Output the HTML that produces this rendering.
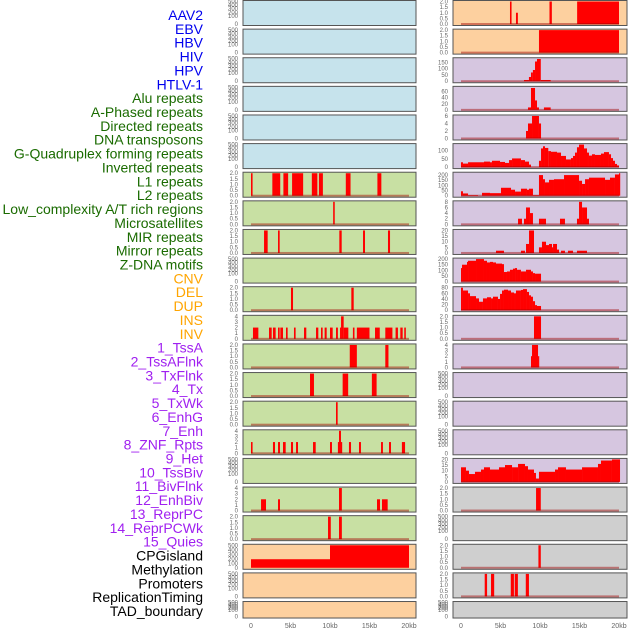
<!DOCTYPE html>
<html><head><meta charset="utf-8"><style>
body{margin:0;background:#fff;width:630px;height:630px;overflow:hidden}
svg{display:block;font-family:"Liberation Sans",sans-serif}
</style></head><body>
<svg id="c" width="630" height="630"></svg>
<script>
const labelNames=["AAV2","EBV","HBV","HIV","HPV","HTLV-1","Alu repeats","A-Phased repeats","Directed repeats","DNA transposons","G-Quadruplex forming repeats","Inverted repeats","L1 repeats","L2 repeats","Low_complexity A/T rich regions","Microsatellites","MIR repeats","Mirror repeats","Z-DNA motifs","CNV","DEL","DUP","INS","INV","1_TssA","2_TssAFlnk","3_TxFlnk","4_Tx","5_TxWk","6_EnhG","7_Enh","8_ZNF_Rpts","9_Het","10_TssBiv","11_BivFlnk","12_EnhBiv","13_ReprPC","14_ReprPCWk","15_Quies","CPGisland","Methylation","Promoters","ReplicationTiming","TAD_boundary"];
const labelColors=[].concat(Array(6).fill("#0000ee"),Array(13).fill("#1a6b00"),Array(5).fill("#ffa500"),Array(15).fill("#a020f0"),Array(5).fill("#000"));
const xTicks=[0,5,10,15,20];
const xTickLabels=["0","5kb","10kb","15kb","20kb"];
const T2=[0,0.5,1,1.5,2], T4=[0,1,2,3,4], T500=[0,100,200,300,400,500];
const BL="#c6e3ec",GR="#c8e0a3",PE="#fdd09f",PU="#d6c6e0",GY="#cfcfcf";
const tracks=[
{bg:BL,ymax:500,ticks:T500,empty:1},{bg:BL,ymax:500,ticks:T500,empty:1},{bg:BL,ymax:500,ticks:T500,empty:1},
{bg:BL,ymax:500,ticks:T500,empty:1},{bg:BL,ymax:500,ticks:T500,empty:1},{bg:BL,ymax:500,ticks:T500,empty:1},
{bg:GR,ymax:2,ticks:T2,starts:[0,2.7,4.1,5.2,7.7,8.6,12.0,16.0],ends:[0.2,3.7,4.7,6.6,8.4,9.1,12.6,16.5],vals:[2,2,2,2,2,2,2,2]},
{bg:GR,ymax:2,ticks:T2,starts:[10.4],ends:[10.6],vals:[2]},
{bg:GR,ymax:2,ticks:T2,starts:[1.65,3.42,11.18,14.18,17.34],ends:[2.11,3.63,11.48,14.43,17.6],vals:[2,2,2,2,2]},
{bg:GR,ymax:500,ticks:T500,empty:1},
{bg:GR,ymax:2,ticks:T2,starts:[5.06,12.7],ends:[5.32,13.0],vals:[2,2]},
{bg:GR,ymax:4,ticks:T4,starts:[0.25,2.28,2.78,3.42,3.71,4.43,5.44,6.71,8.23,8.86,9.32,10.0,10.76,11.27,11.4,11.73,12.9,13.4,15.7,17.0,18.3,18.9,19.4],ends:[0.93,2.62,3.12,3.63,4.05,4.64,5.65,7.0,8.52,9.07,9.58,10.34,11.0,11.4,11.73,12.32,13.1,15.0,16.3,17.9,18.6,19.2,19.6],vals:[2,2,2,2,2,2,2,2,2,2,2,2,2,2,4,2,2,2,2,2,2,2,2]},
{bg:GR,ymax:2,ticks:T2,starts:[12.5,17.0],ends:[13.4,17.4],vals:[2,2]},
{bg:GR,ymax:2,ticks:T2,starts:[7.47,11.6,15.3],ends:[7.97,12.3,15.9],vals:[2,2,2]},
{bg:GR,ymax:2,ticks:T2,starts:[10.76],ends:[10.97],vals:[2]},
{bg:GR,ymax:4,ticks:T4,starts:[0,2.78,3.42,4.05,5.06,5.7,7.85,10.0,11.0,11.14,11.39,12.4,13.67,16.46,17.47,19.1],ends:[0.2,3.04,3.67,4.39,5.32,5.95,8.19,10.25,11.14,11.39,11.5,12.66,13.92,16.7,17.72,19.5],vals:[2,2,2,2,2,2,2,2,2,4,2,2,2,2,2,2]},
{bg:GR,ymax:500,ticks:T500,empty:1},
{bg:GR,ymax:4,ticks:T4,starts:[1.27,3.42,11.14,15.95,16.58],ends:[1.9,3.67,11.5,16.33,17.3],vals:[2,2,4,2,2]},
{bg:GR,ymax:2,ticks:T2,starts:[9.75,11.14],ends:[10.1,11.5],vals:[2,2]},
{bg:PE,ymax:500,ticks:T500,starts:[0,10],ends:[10,20],vals:[190,500],nobase:1},
{bg:PE,ymax:500,ticks:T500,empty:1},{bg:PE,ymax:500,ticks:T500,empty:1},
{bg:PE,ymax:2,ticks:T2,starts:[6.2,6.96,11.2,14.7],ends:[6.4,7.2,11.5,20],vals:[2,1,2,2]},
{bg:PE,ymax:2,ticks:T2,starts:[9.87],ends:[20],vals:[2]},
{bg:PU,ymax:180,ticks:[0,50,100,150],starts:[7.97,8.6,8.86,9.1,9.37,9.62,10.1],ends:[8.6,8.86,9.1,9.37,9.62,10.1,11.35],vals:[10,34,70,90,158,178,10]},
{bg:PU,ymax:74,ticks:[0,20,40,60],starts:[8.48,8.86,9.37,9.62,10.5],ends:[8.86,9.37,9.62,9.87,11.35],vals:[8,72,31,8,8]},
{bg:PU,ymax:6,ticks:[0,2,4,6],starts:[8.23,8.48,8.99,9.87],ends:[8.48,8.99,9.87,10.13],vals:[2,4,6,4]},
{bg:PU,ymax:135,ticks:[0,50,100],edges:[0,0.25,0.89,2.91,3.67,3.92,4.94,5.57,6.08,6.46,7.59,8.10,8.61,8.86,9.87,10.13,10.38,10.63,11.05,11.39,12.15,12.66,13.29,13.92,14.18,14.43,14.68,14.94,15.57,15.95,16.20,16.58,16.96,17.72,18.10,18.73,18.99,19.24,19.49,19.75,20.0],vals:[29,21,29,33,29,38,31,25,42,52,42,33,15,0,38,112,125,115,96,92,87,67,46,54,67,87,119,135,112,87,69,77,73,81,90,77,54,38,19,10]},
{bg:PU,ymax:218,ticks:[0,50,100,150,200],edges:[0,0.25,0.89,2.15,2.66,3.67,5.06,6.33,6.84,7.59,8.35,8.61,9.11,9.87,10.38,10.63,11.14,11.77,13.04,14.94,15.32,15.70,16.20,18.23,18.86,19.49,20.0,20.13],vals:[43,22,6,0,28,25,77,58,40,68,58,68,6,200,160,129,154,160,200,145,114,160,175,154,175,206,218]},
{bg:PU,ymax:8,ticks:[0,2,4,6,8],starts:[7.22,7.97,8.23,8.73,9.87,12.53,14.68,14.94,15.32,15.95],ends:[7.72,8.23,8.73,9.11,10.76,13.16,14.94,15.32,15.95,16.20],vals:[2,2,6,4,2,2,2,8,6,2]},
{bg:PU,ymax:20,ticks:[0,5,10,15,20],starts:[4.43,7.59,8.23,8.61,9.87,10.25,10.76,11.14,11.52,11.65,12.15,12.66,13.54,14.68],ends:[5.44,8.10,8.61,9.24,10.25,10.76,11.14,11.52,11.65,12.15,12.41,13.16,14.18,15.95],vals:[2,2,8,20,5,10,7,8,5,8,3,2,2,2]},
{bg:PU,ymax:200,ticks:[0,50,100,150,200],edges:[0,0.13,0.76,0.89,1.90,2.91,3.29,3.67,4.05,4.43,5.19,5.44,5.82,6.20,6.58,6.84,7.09,7.59,8.23,8.86,9.11,9.37,10.13],vals:[120,150,175,185,200,185,170,175,170,160,155,85,90,105,115,120,105,90,105,90,75,70]},
{bg:PU,ymax:80,ticks:[0,20,40,60,80],edges:[0,0.25,0.89,1.14,1.90,2.28,2.78,3.29,3.80,4.05,4.68,4.94,5.19,5.44,5.95,6.33,6.71,6.96,7.59,7.85,8.35,8.61,8.86,9.11,9.37,9.62,10.13],vals:[80,70,60,50,42,30,42,46,42,48,40,58,70,73,70,63,60,70,72,75,65,53,48,32,18,15]},
{bg:PU,ymax:2,ticks:T2,starts:[9.24],ends:[10.13],vals:[2]},
{bg:PU,ymax:4,ticks:T4,starts:[8.86,8.99,9.75],ends:[8.99,9.75,9.87],vals:[2,4,2]},
{bg:PU,ymax:500,ticks:T500,empty:1},{bg:PU,ymax:500,ticks:T500,empty:1},{bg:PU,ymax:500,ticks:T500,empty:1},
{bg:PU,ymax:20,ticks:[0,5,10,15,20],edges:[0,0.63,1.01,1.77,2.53,2.91,3.67,4.81,5.57,6.46,7.22,8.10,8.48,9.24,9.49,9.87,11.90,12.28,13.29,15.32,17.34,17.72,19.11,20.13],vals:[13,10,7,9,11,13,11,13,15,13,16,14,11,8,3,9,11,13,11,13,16,19,20]},
{bg:GY,ymax:2,ticks:T2,starts:[9.5],ends:[10.1],vals:[2]},
{bg:GY,ymax:500,ticks:T500,empty:1},
{bg:GY,ymax:2,ticks:T2,starts:[9.8],ends:[10.1],vals:[2]},
{bg:GY,ymax:2,ticks:T2,starts:[3.0,3.8,6.3,6.8,8.2],ends:[3.3,4.2,6.7,7.2,8.6],vals:[2,2,2,2,2]},
{bg:GY,ymax:500,ticks:T500,empty:1}
];
const NS="http://www.w3.org/2000/svg";
const svg=document.getElementById("c");
function el(tag,attrs,parent){const e=document.createElementNS(NS,tag);for(const k in attrs)e.setAttribute(k,attrs[k]);(parent||svg).appendChild(e);return e;}
labelNames.forEach((n,i)=>{
  const t=el("text",{x:203,y:15+i*13.86+5,"text-anchor":"end","font-size":"14",fill:labelColors[i]});
  t.textContent=n;
  
  
});
const cols=[{x0:243,x1:416,d0:251,d1:409,tx:238},{x0:453,x1:627,d0:461,d1:619,tx:448}];
const ROWH=28.62;
tracks.forEach((tr,idx)=>{
  const c=cols[idx<22?0:1],row=idx%22,top=0.5+row*ROWH,PH=(row===21?16.5:25),bot=top+PH;
  const xs=kb=>c.d0+(c.d1-c.d0)*kb/20;
  const ys=v=>tr.empty?(v===0?bot-1.5:bot-6-(PH-7)*v/tr.ymax):bot-1.5-(PH-2.5)*v/tr.ymax;
  const g=el("g",{});
  
  
  const r=el("rect",{x:c.x0,y:top,width:c.x1-c.x0,height:PH,fill:tr.bg},g);
  
  
  let segs=[];
  if(tr.starts)tr.starts.forEach((s,i)=>segs.push([s,tr.ends[i],tr.vals[i]]));
  if(tr.edges)tr.vals.forEach((v,i)=>segs.push([tr.edges[i],tr.edges[i+1],v]));
  segs.forEach(s=>{
    if(s[2]<=0)return;
    const b=el("rect",{x:xs(s[0]),y:ys(s[2]),width:Math.max(1.2,xs(s[1])-xs(s[0])),height:ys(0)-ys(s[2]),fill:"#ff0000"},g);
    
    
  });
  if(segs.length&&!tr.nobase){
    const l=el("rect",{x:xs(0),y:bot-2.5,width:xs(20)-xs(0),height:2,fill:"rgba(160,0,0,0.45)"},g);
    
    
  }
  el("rect",{x:c.x0,y:top,width:c.x1-c.x0,height:PH,fill:"none",stroke:"#555","stroke-width":1},g);
  tr.ticks.forEach(v=>{
    const t=el("text",{x:c.tx,y:ys(v)+2,"text-anchor":"end","font-size":"6",fill:"#666"},g);
    t.textContent=(tr.ymax===2)?v.toFixed(1):String(v);
    
    
  });
});
cols.forEach((c,ci)=>{
  xTicks.forEach((v,i)=>{
    const t=el("text",{x:c.d0+(c.d1-c.d0)*v/20,y:628,"text-anchor":"middle","font-size":"7",fill:"#666"});
    t.textContent=xTickLabels[i];
    
    
  });
});
</script>
</body></html>
